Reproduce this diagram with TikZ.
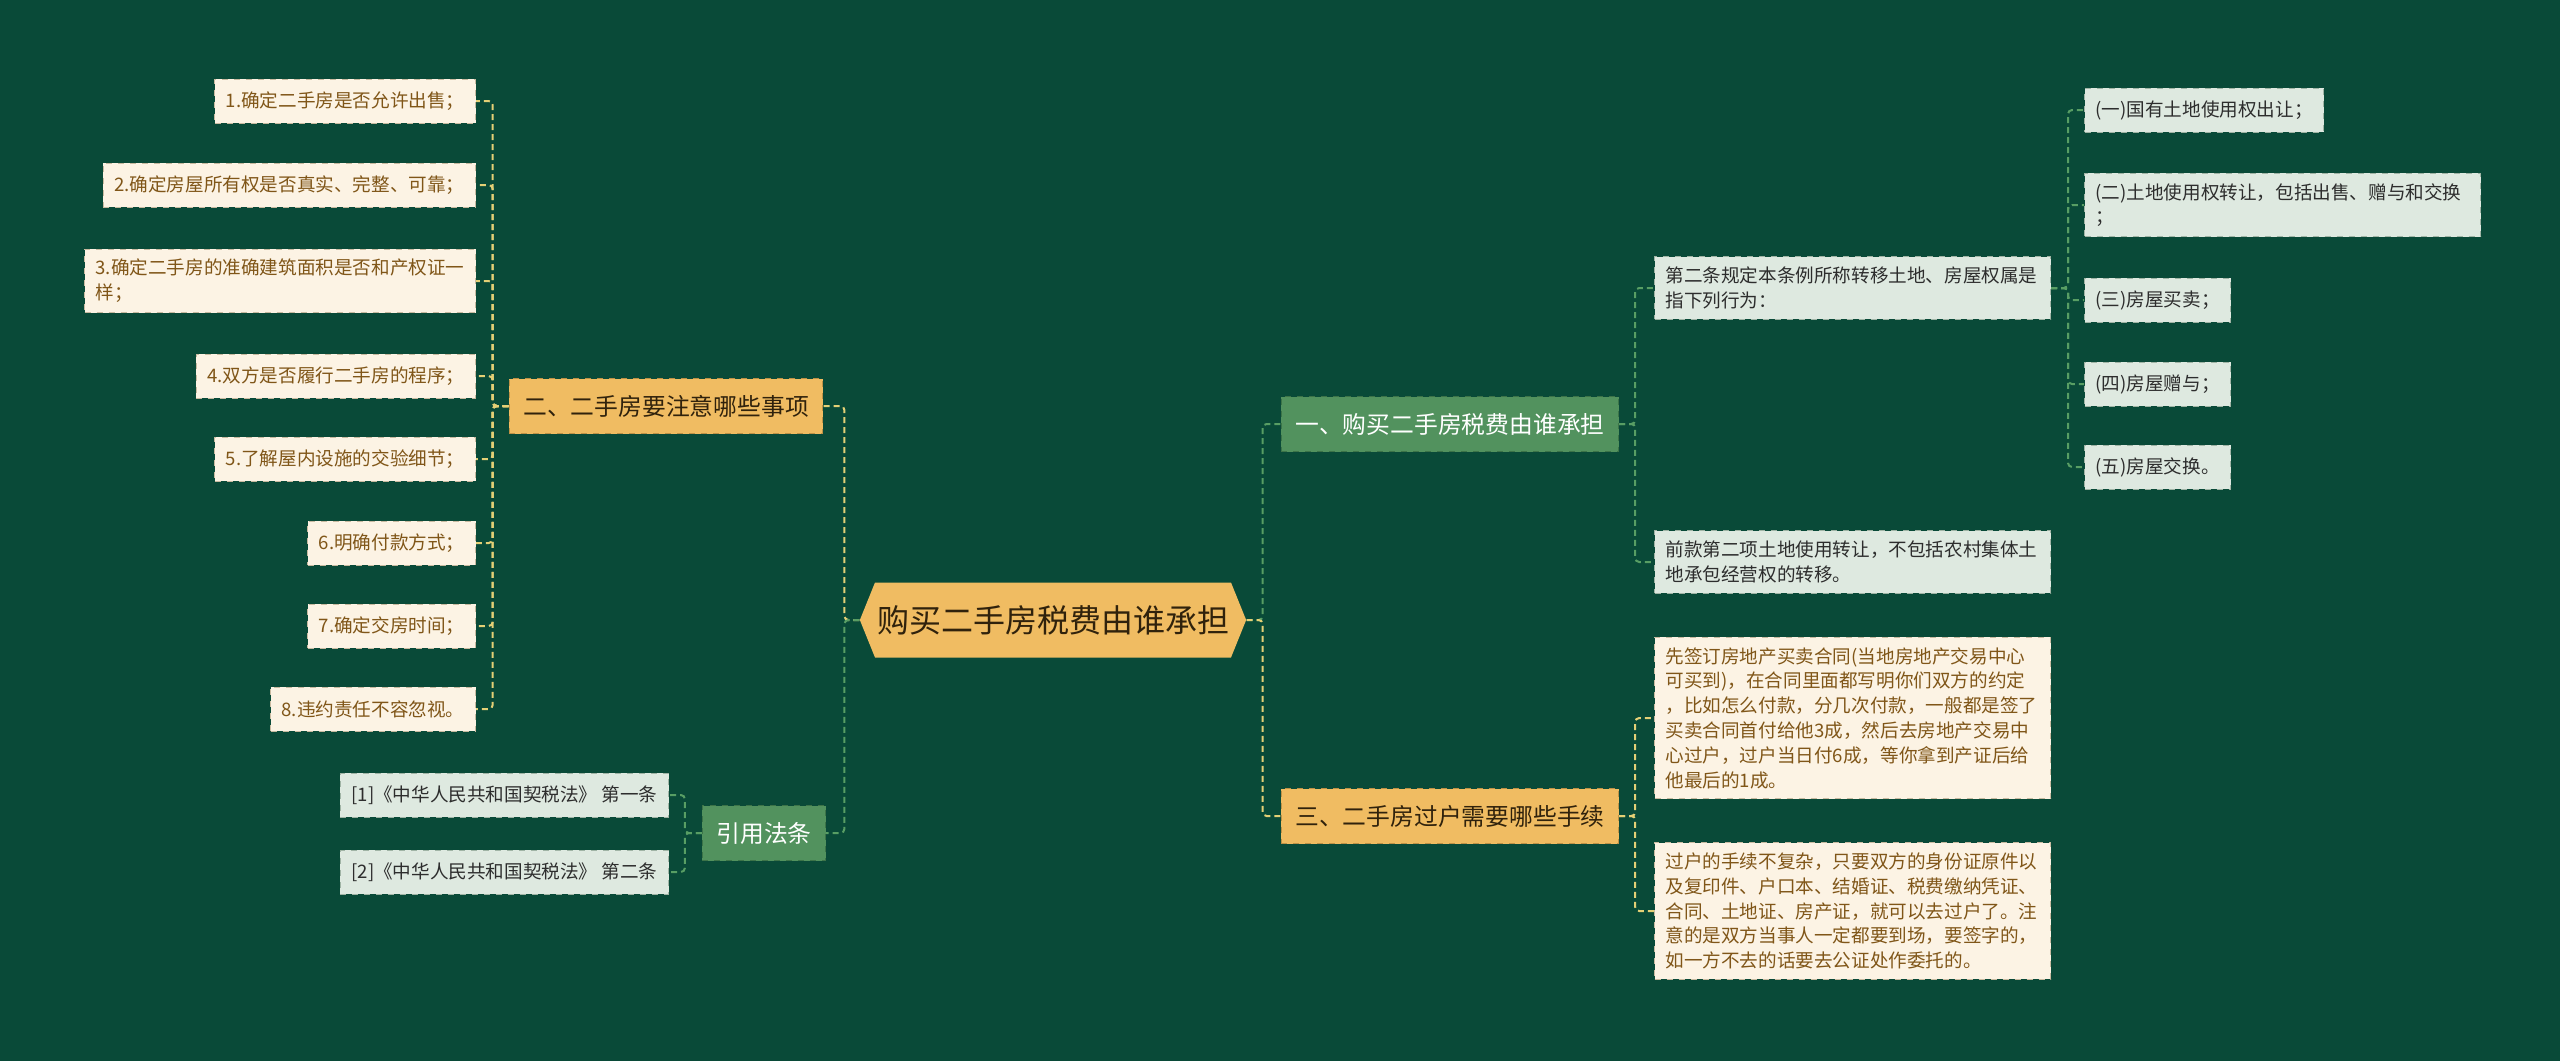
\documentclass[tikz,border=0pt]{standalone}
\usepackage{fontspec}
\setmainfont{Noto Sans CJK SC}
\usetikzlibrary{shapes.symbols}
\definecolor{bg}{RGB}{9,74,56}
\definecolor{cream}{RGB}{252,243,228}
\definecolor{creamline}{RGB}{200,186,160}
\definecolor{brownt}{RGB}{128,86,24}
\definecolor{lgreen}{RGB}{222,233,224}
\definecolor{lgreenline}{RGB}{160,180,165}
\definecolor{darkt}{RGB}{45,45,45}
\definecolor{mgreen}{RGB}{82,146,94}
\definecolor{mgreenline}{RGB}{60,115,72}
\definecolor{orng}{RGB}{240,188,98}
\definecolor{orngline}{RGB}{190,145,70}
\definecolor{orngt}{RGB}{48,34,12}
\definecolor{cyel}{RGB}{228,208,118}
\definecolor{cgrn}{RGB}{88,158,100}
\tikzset{
  leafbase/.style={dashed, line width=0.5pt, inner xsep=5.5pt, inner ysep=5pt,
    minimum height=22pt, align=left, font=\fontsize{9.3}{12.4}\selectfont},
  leafy/.style={leafbase, fill=cream, draw=creamline, text=brownt},
  leafg/.style={leafbase, fill=lgreen, draw=lgreenline, text=darkt},
  wide/.style={text width=187pt},
  branchbase/.style={dashed, line width=0.5pt, inner xsep=7pt, minimum height=27.5pt,
    font=\fontsize{11.9}{14}\selectfont},
  branchg/.style={branchbase, fill=mgreen, draw=mgreenline, text=white},
  brancho/.style={branchbase, fill=orng, draw=orngline, text=orngt},
  conn/.style={dashed, dash pattern=on 3pt off 2pt, line width=1pt, rounded corners=2pt},
  cy/.style={conn, draw=cyel},
  cg/.style={conn, draw=cgrn},
}
\begin{document}
\begin{tikzpicture}[x=0.5pt,y=-0.5pt]
\fill[bg] (0,0) rectangle (2560,1061);
\useasboundingbox (0,0) rectangle (2560,1061);

% central
\node[signal, signal to=east and west, signal pointer angle=136, fill=orng, text=orngt,
  minimum height=37.5pt, inner xsep=1pt, font=\fontsize{16}{16}\selectfont] (C) at (1053,620) {购买二手房税费由谁承担};

% branches
\node[brancho] (B1) at (666,406) {二、二手房要注意哪些事项};
\node[branchg] (B2) at (764,833) {引用法条};
\node[branchg] (B3) at (1450,424) {一、购买二手房税费由谁承担};
\node[brancho] (B4) at (1450,816) {三、二手房过户需要哪些手续};

% left leaves
\node[leafy, anchor=east] (L1) at (476,101) {1.确定二手房是否允许出售；};
\node[leafy, anchor=east] (L2) at (476,185) {2.确定房屋所有权是否真实、完整、可靠；};
\node[leafy, anchor=east] (L3) at (476,281) {3.确定二手房的准确建筑面积是否和产权证一\\样；};
\node[leafy, anchor=east] (L4) at (476,376) {4.双方是否履行二手房的程序；};
\node[leafy, anchor=east] (L5) at (476,459) {5.了解屋内设施的交验细节；};
\node[leafy, anchor=east] (L6) at (476,543) {6.明确付款方式；};
\node[leafy, anchor=east] (L7) at (476,626) {7.确定交房时间；};
\node[leafy, anchor=east] (L8) at (476,709) {8.违约责任不容忽视。};

% citations
\node[leafg, anchor=east] (Q1) at (669,795) {[1]《中华人民共和国契税法》 第一条};
\node[leafg, anchor=east] (Q2) at (669,872) {[2]《中华人民共和国契税法》 第二条};

% right leaves of B3
\node[leafg, wide, anchor=west] (R1) at (1654,288) {第二条规定本条例所称转移土地、房屋权属是\\指下列行为：};
\node[leafg, wide, anchor=west] (R2) at (1654,562) {前款第二项土地使用转让，不包括农村集体土\\地承包经营权的转移。};

% sub leaves
\node[leafg, anchor=west] (T1) at (2084,110) {(一)国有土地使用权出让；};
\node[leafg, wide, anchor=west] (T2) at (2084,205) {(二)土地使用权转让，包括出售、赠与和交换\\；};
\node[leafg, anchor=west] (T3) at (2084,300) {(三)房屋买卖；};
\node[leafg, anchor=west] (T4) at (2084,384) {(四)房屋赠与；};
\node[leafg, anchor=west] (T5) at (2084,467) {(五)房屋交换。};

% B4 leaves
\node[leafy, wide, anchor=west] (S1) at (1654,718) {先签订房地产买卖合同(当地房地产交易中心\\可买到)，在合同里面都写明你们双方的约定\\，比如怎么付款，分几次付款，一般都是签了\\买卖合同首付给他3成，然后去房地产交易中\\心过户，过户当日付6成，等你拿到产证后给\\他最后的1成。};
\node[leafy, wide, anchor=west] (S2) at (1654,911) {过户的手续不复杂，只要双方的身份证原件以\\及复印件、户口本、结婚证、税费缴纳凭证、\\合同、土地证、房产证，就可以去过户了。注\\意的是双方当事人一定都要到场，要签字的，\\如一方不去的话要去公证处作委托的。};

% connectors
\draw[cy] (C.west) -- ++(-15,0) |- (B1.east);
\draw[cg] (C.west) -- ++(-15,0) |- (B2.east);
\draw[cg] (C.east) -- ++(16,0) |- (B3.west);
\draw[cy] (C.east) -- ++(16,0) |- (B4.west);

\foreach \i in {1,...,8} \draw[cy] (B1.west) -- ++(-16,0) |- (L\i.east);
\foreach \i in {1,2} \draw[cg] (B2.west) -- ++(-17,0) |- (Q\i.east);
\foreach \i in {1,2} \draw[cg] (B3.east) -- ++(16,0) |- (R\i.west);
\foreach \i in {1,...,5} \draw[cg] (R1.east) -- ++(17,0) |- (T\i.west);
\foreach \i in {1,2} \draw[cy] (B4.east) -- ++(16,0) |- (S\i.west);
\end{tikzpicture}
\end{document}
